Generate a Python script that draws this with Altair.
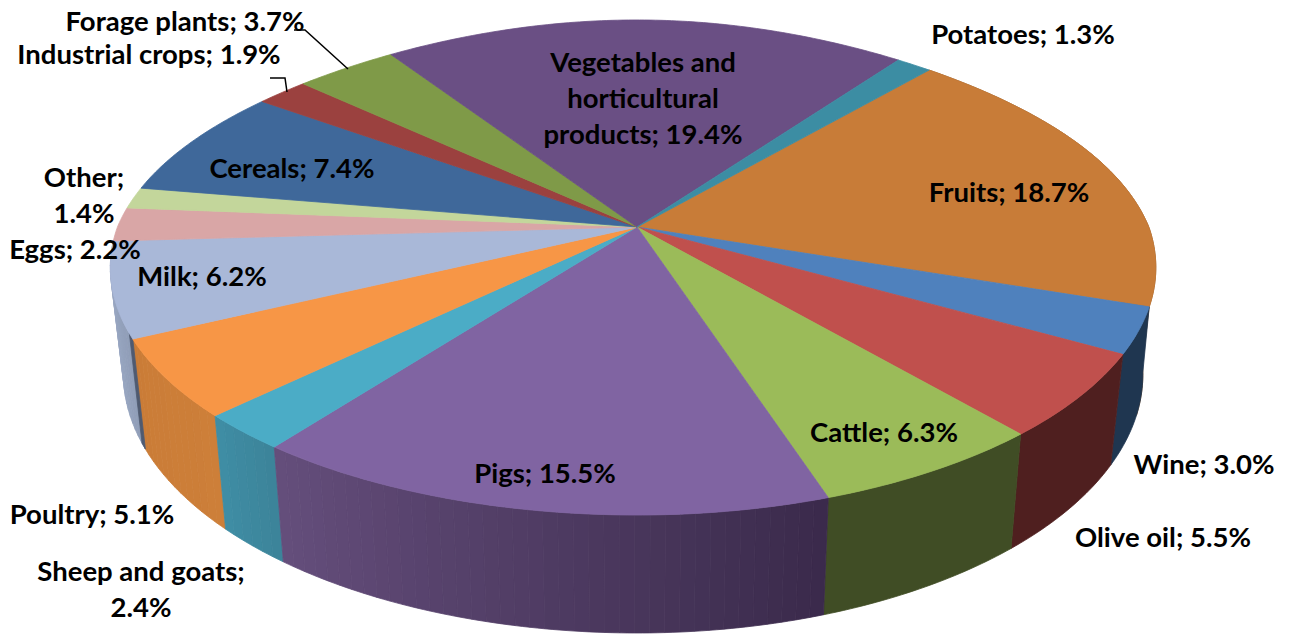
import math
import altair as alt

# ---- chart values ----
categories = ["Fruits", "Wine", "Olive oil", "Cattle", "Pigs", "Sheep and goats", "Poultry",
              "Milk", "Eggs", "Other", "Cereals", "Industrial crops", "Forage plants",
              "Vegetables and horticultural products", "Potatoes"]
shares = [18.7, 3.0, 5.5, 6.3, 15.5, 2.4, 5.1, 6.2, 2.2, 1.4, 7.4, 1.9, 3.7, 19.4, 1.3]

# ---- styles ----
top_colors = ["#C87C38", "#4F81BD", "#C0504D", "#9BBB59", "#8064A2", "#4BACC6", "#F79646",
              "#A9B8D8", "#D9A6A6", "#C3D69B", "#3F689A", "#9B413F", "#7F9A48", "#6A4F84", "#3C8DA3"]
side_colors = {
    "Fruits": ("#8A5526", "#8A5526"),
    "Wine": ("#1F3650", "#1F3650"),
    "Olive oil": ("#4F1F1F", "#4F1F1F"),
    "Cattle": ("#404D25", "#404D25"),
    "Pigs": ("#3A2A4B", "#654E7C"),
    "Sheep and goats": ("#3C8399", "#3F8EA5"),
    "Poultry": ("#CD7F39", "#CA7C37"),
    "Milk": ("#8E9CB6", "#A5B2CE"),
}

# ---- layout of the tilted drum ----
START_DEG = 41.0
CX, CY = 637.0, 227.0
A, B, K = 517.0, 240.9, 0.1636
LOWER_X, LOWER_DY, LOWER_Y = 0.975, 105.0, 1.045
PAGE = 8
WINE_LOWER_OVERLAP = 2.6

label_layout = {
    "Forage plants": (185, 23), "Industrial crops": (149, 56), "Potatoes": (1023, 36),
    "Vegetables and horticultural products": (643, 64), "Fruits": (1009, 194),
    "Cereals": (292, 170), "Other": (84, 179), "Eggs": (75, 251), "Milk": (202, 278),
    "Wine": (1204, 466), "Olive oil": (1163, 539), "Cattle": (884, 434),
    "Pigs": (545, 475), "Poultry": (92, 516), "Sheep and goats": (141, 573),
}
label_text = {
    "Vegetables and horticultural products": "Vegetables and\nhorticultural\nproducts; {}%",
    "Other": "Other;\n{}%",
    "Sheep and goats": "Sheep and goats;\n{}%",
}
leaders = [[(294, 30), (305, 30), (348, 69)], [(270, 78), (285, 78), (287, 92)]]


def top_pt(pct):
    a = math.radians(START_DEG + pct * 3.6)
    u, v = math.sin(a), -math.cos(a)
    d = 1 - K * v
    fx = 0.99 if u > 0 else 1.005
    dy = 0.0
    if v < 0:
        fx *= 1 + 0.03 * v
        dy = 20 * v * v * (1 - v * v)
    return (CX + fx * A * u / d, CY + B * v / d + dy)


def low_pt(pct):
    x, y = top_pt(pct)
    return (CX + LOWER_X * (x - CX), CY + LOWER_DY + LOWER_Y * (y - CY))


def c(p):
    return [p[0] - PAGE, p[1] - PAGE]


def lerp(c1, c2, t):
    a = [int(c1[i:i + 2], 16) for i in (1, 3, 5)]
    b = [int(c2[i:i + 2], 16) for i in (1, 3, 5)]
    return "#%02x%02x%02x" % tuple(round(a[i] + (b[i] - a[i]) * t) for i in range(3))


def poly(points, color):
    ring = [c(p) for p in points]
    ring.append(ring[0])
    return {"type": "Feature", "geometry": {"type": "Polygon", "coordinates": [ring]},
            "fill": color}


def steps(p0, p1, size=0.2):
    n = max(2, int(round((p1 - p0) / size)))
    return [p0 + (p1 - p0) * i / n for i in range(n + 1)]


edges = [0.0]
for s in shares:
    edges.append(edges[-1] + s)

sides = []
for name, p0, p1 in zip(categories, edges[:-1], edges[1:]):
    if name not in side_colors:
        continue
    c0, c1 = side_colors[name]
    if c0 == c1:
        ts = steps(p0, p1)
        lows = steps(p0 - WINE_LOWER_OVERLAP, p1) if name == "Wine" else ts
        q = [top_pt(t) for t in ts] + [low_pt(t) for t in reversed(lows)]
        sides.append((sum(pt[1] for pt in q) / len(q), poly(q, c0)))
        continue
    # banded shading, as in the reference's side walls
    bands = steps(p0, p1, 0.4)
    for i in range(len(bands) - 1):
        t = (i + 0.5) / (len(bands) - 1)
        ts = steps(bands[i], bands[i + 1], 0.2)
        q = [top_pt(x) for x in ts] + [low_pt(x) for x in reversed(ts)]
        sides.append((sum(pt[1] for pt in q) / len(q), poly(q, lerp(c0, c1, t))))
# the dark inner wall seen at the Poultry / Milk joint
joint = edges[categories.index("Milk")]
sides.append((1e9, poly([top_pt(joint), top_pt(joint + 0.35), low_pt(joint + 0.35), low_pt(joint)], "#4F5A70")))
sides.sort(key=lambda s: s[0])
features = [s[1] for s in sides]

for color, p0, p1 in zip(top_colors, edges[:-1], edges[1:]):
    features.append(poly([(CX, CY)] + [top_pt(t) for t in steps(p0, p1)], color))

lines = [{"type": "Feature", "geometry": {"type": "LineString", "coordinates": [c(p) for p in l]}}
         for l in leaders]

labels = []
for name, share in zip(categories, shares):
    text = label_text.get(name, name + "; {}%").format(share)
    x, y = label_layout[name]
    labels.append({"lon": x - PAGE, "lat": y - PAGE, "text": text})

proj = dict(type="identity", scale=1, translate=[0, 0])

pie = alt.Chart(alt.Data(values=features)).mark_geoshape(strokeWidth=0.8).encode(
    fill=alt.Fill("fill:N", scale=None), stroke=alt.Stroke("fill:N", scale=None)
).project(**proj)

leader = alt.Chart(alt.Data(values=lines)).mark_geoshape(
    filled=False, stroke="#000000", strokeWidth=1.5
).project(**proj)

text = alt.Chart(alt.Data(values=labels)).mark_text(
    font="Lato", fontWeight="bold", fontSize=27.5, lineBreak="\n", lineHeight=36,
    align="center", baseline="middle", color="#000000"
).encode(longitude="lon:Q", latitude="lat:Q", text="text:N").project(**proj)

chart = alt.layer(pie, leader, text).properties(
    width=1274, height=627, padding=0, autosize=alt.AutoSizeParams(type="none")
).configure_view(stroke=None)

chart.save("out.html", embed_options={"renderer": "svg", "actions": False})
